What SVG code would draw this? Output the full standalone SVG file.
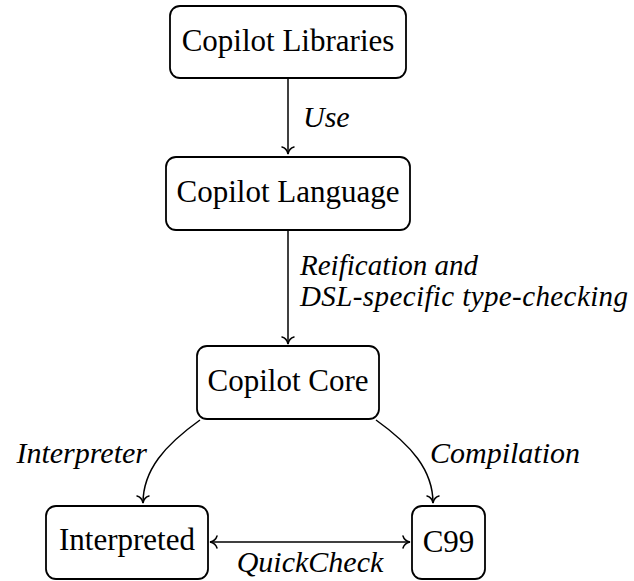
<svg xmlns="http://www.w3.org/2000/svg" width="634" height="581" viewBox="0 0 634 581">
<style>
.box{fill:#fff;stroke:#000;stroke-width:1.8}
.nt{font-family:"Liberation Serif","Times New Roman",serif;font-size:31px;fill:#000;text-anchor:middle}
.lb{font-family:"Liberation Serif","Times New Roman",serif;font-size:30px;font-style:italic;fill:#000}
.lb2{font-size:29px}
.edge{fill:none;stroke:#000;stroke-width:1.5}
</style>
<defs>
<marker id="to" markerUnits="userSpaceOnUse" viewBox="-8 -7 10 14" refX="0" refY="0" markerWidth="10" markerHeight="14" orient="auto-start-reverse">
<path d="M-7,-6 C-6,-2.4 -2.4,-0.5 0,0 C-2.4,0.5 -6,2.4 -7,6" fill="none" stroke="#000" stroke-width="1.5" stroke-linecap="round"/>
</marker>
</defs>
<g id="connectors">
<path class="edge" d="M288,78 L288,154" marker-end="url(#to)"/>
<path class="edge" d="M288,230 L288,344" marker-end="url(#to)"/>
<path class="edge" d="M200,420 C165,445 143,470 143,503" marker-end="url(#to)"/>
<path class="edge" d="M376,420 C411,445 433,470 433,503" marker-end="url(#to)"/>
<path class="edge" d="M210,542 L410,542" marker-start="url(#to)" marker-end="url(#to)"/>
<text class="lb" x="303" y="127">Use</text>
<text class="lb lb2" x="300" y="275">Reification and</text>
<text class="lb lb2" x="300" y="306" textLength="328">DSL-specific type-checking</text>
<text class="lb" x="147" y="463" text-anchor="end">Interpreter</text>
<text class="lb" x="430" y="463">Compilation</text>
<text class="lb" x="310" y="572" text-anchor="middle">QuickCheck</text>
</g>
<g id="libraries">
<rect class="box" x="170" y="6" width="236" height="72" rx="10"/>
<text class="nt" x="288" y="51">Copilot Libraries</text>
</g>
<g id="language">
<rect class="box" x="166" y="157" width="244" height="73" rx="10"/>
<text class="nt" x="288" y="202">Copilot Language</text>
</g>
<g id="core">
<rect class="box" x="197" y="346" width="182" height="73" rx="10"/>
<text class="nt" x="288" y="391">Copilot Core</text>
</g>
<g id="interpreted">
<rect class="box" x="46" y="506" width="162" height="73" rx="10"/>
<text class="nt" x="127" y="550">Interpreted</text>
</g>
<g id="c99">
<rect class="box" x="412" y="506" width="73" height="73" rx="10"/>
<text class="nt" x="448.5" y="552">C99</text>
</g>
</svg>
